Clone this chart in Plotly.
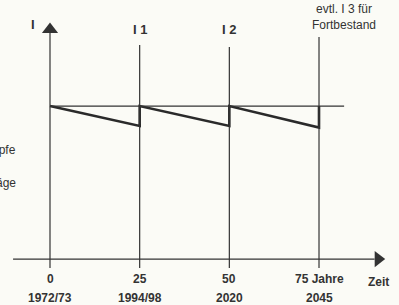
import plotly.graph_objects as go

# ---- data ----
years = [0, 25, 50, 75]
tick_top = ["0", "25", "50", "75 Jahre"]
tick_bottom = ["1972/73", "1994/98", "2020", "2045"]
saw_x = [0, 25, 25, 50, 50, 75, 75]
saw_y = [1.0, 0.87, 1.0, 0.87, 1.0, 0.86, 1.0]
top_labels = ["I 1", "I 2", "evtl. I 3 für<br>Fortbestand"]
level = 1.0

INK = "#333333"
BG = "#fbfbf6"
FONT = "Liberation Sans, Arial, sans-serif"

fig = go.Figure()

# vertical guide lines at each time point
vtops = [1.49, 1.399, 1.386, 1.451]
for xv, top in zip(years, vtops):
    fig.add_shape(type="line", x0=xv, x1=xv, y0=-0.059, y1=top,
                  line=dict(color=INK, width=1.2))

# x axis line
fig.add_shape(type="line", x0=-10.3, x1=90.5, y0=0, y1=0,
              line=dict(color=INK, width=1.2))
# horizontal reference level
fig.add_shape(type="line", x0=0, x1=82, y0=level, y1=level,
              line=dict(color=INK, width=1.2))

# sawtooth
fig.add_trace(go.Scatter(x=saw_x, y=saw_y, mode="lines",
                         line=dict(color="#2a2a2a", width=2.6),
                         hoverinfo="skip", showlegend=False))

# arrowheads
fig.add_trace(go.Scatter(x=[0], y=[1.5], mode="markers",
                         marker=dict(symbol="triangle-up", size=14, color=INK),
                         hoverinfo="skip", showlegend=False))
fig.add_trace(go.Scatter(x=[91.5], y=[0], mode="markers",
                         marker=dict(symbol="triangle-right", size=14, color=INK),
                         hoverinfo="skip", showlegend=False))

ann = []
for xv, t1, t2 in zip(years, tick_top, tick_bottom):
    ann.append(dict(x=xv, y=-0.131, text=t1, showarrow=False,
                    font=dict(size=12, color=INK, family=FONT, weight="bold")))
    ann.append(dict(x=xv, y=-0.255, text=t2, showarrow=False,
                    font=dict(size=12, color=INK, family=FONT, weight="bold")))
ann.append(dict(x=91.5, y=-0.15, text="Zeit", showarrow=False,
                font=dict(size=12, color=INK, family=FONT, weight="bold")))

ann.append(dict(x=-4.74, y=1.53, text="I", showarrow=False,
                font=dict(size=13, color=INK, family=FONT, weight="bold")))
ann.append(dict(x=25, y=1.503, text=top_labels[0], showarrow=False,
                font=dict(size=13, color=INK, family=FONT, weight="bold")))
ann.append(dict(x=50, y=1.503, text=top_labels[1], showarrow=False,
                font=dict(size=13, color=INK, family=FONT, weight="bold")))
ann.append(dict(x=82, y=1.585, text=top_labels[2], showarrow=False,
                font=dict(size=12, color=INK, family=FONT)))

ann.append(dict(x=-8.9, y=0.71, text="öpfe", showarrow=False, xanchor="right",
                font=dict(size=12, color=INK, family=FONT)))
ann.append(dict(x=-8.9, y=0.5, text="äge", showarrow=False, xanchor="right",
                font=dict(size=12, color=INK, family=FONT)))

fig.update_layout(
    width=399, height=305,
    margin=dict(l=0, r=0, t=0, b=0),
    paper_bgcolor=BG, plot_bgcolor=BG,
    xaxis=dict(range=[-13.94, 97.3], visible=False, fixedrange=True),
    yaxis=dict(range=[-0.30, 1.693], visible=False, fixedrange=True),
    annotations=ann,
    showlegend=False,
)

fig.write_html(
    "out.html",
    config={"displayModeBar": False},
    post_script="document.body.style.margin='0';document.body.style.overflow='hidden';document.body.style.background='#fbfbf6';",
)
